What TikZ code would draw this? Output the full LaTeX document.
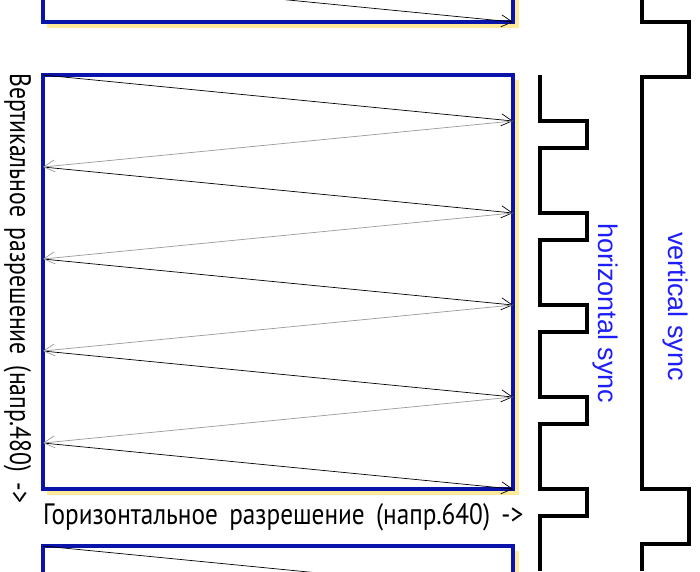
\documentclass[tikz,border=0pt]{standalone}
\usepackage{fontspec}
\usepackage{graphicx}
\setmainfont{PT Sans}
\newfontfamily\syncfont{Liberation Sans}
\usetikzlibrary{shapes,arrows.meta}
\definecolor{framecol}{RGB}{10,20,170}
\definecolor{glowcol}{RGB}{255,225,110}
\definecolor{synccol}{RGB}{30,30,250}
% a line of text squeezed to a given length
\newcommand\reslength[2]{\resizebox{#1}{21pt}{#2}}
\newcommand\wsp{\hspace{.45em}}

\begin{document}
\begin{tikzpicture}[x=1pt,y=-1pt,
      frame/.style={draw=framecol,line width=3.2pt,fill=white},
      glow/.style={fill=glowcol,opacity=.7},
      scan/.style={black,line width=.7pt,-{Straight Barb[length=11pt,width=12pt]}},
      retrace/.style={black!40,line width=.7pt,-{Straight Barb[length=11pt,width=12pt]}},
      wave/.style={line width=3.4pt,line join=miter},
      synclabel/.style={rotate=-90,anchor=base west,inner sep=0pt,text=synccol,
        font=\syncfont\fontsize{27}{30}\selectfont},
      reslabel/.style={anchor=base west,inner sep=0pt}]
    \useasboundingbox (0,0) rectangle (700,571);
    \clip (0,0) rectangle (700,571);

    % frames with their shadow
    \foreach \ya/\yb in {-400/22,75/489,546/960} {
      \fill[glow] (47,\ya+5) rectangle (519,\yb+6);
      \draw[frame] (43,\ya) rectangle (513,\yb);
    }

    % scan points
    \foreach \i in {0,...,4} {
      \coordinate (L\i) at (43,75+92*\i);
      \coordinate (R\i) at (513,121+92*\i);
    }
    \coordinate (Ltop) at (43,-24);
    \coordinate (Rtop) at (513,22);
    \coordinate (Lbot) at (43,546);
    \coordinate (Rbot) at (513,592);

    \draw[scan] (Ltop) -- (Rtop);
    \foreach \i in {0,...,4}
      \draw[scan] (L\i) -- (R\i);
    \foreach \i/\j in {0/1,1/2,2/3,3/4}
      \draw[retrace] (R\i) -- (L\j);
    \draw[scan] (Lbot) -- (Rbot);

    % horizontal sync
    \draw[wave] (540,75)
      \foreach \y in {121,213,305,397,489} {
        -- (540,\y) -- (587,\y) -- (587,\y+27) -- (540,\y+27)
      } -- (540,571);

    % vertical sync
    \draw[wave] (642,0) -- (642,22) -- (689,22) -- (689,77) -- (642,77)
      -- (642,489) -- (689,489) -- (689,544) -- (642,544) -- (642,571);

    \node[synclabel] (hsync) at (598,223) {horizontal sync};
    \node[synclabel] (vsync) at (668,232) {vertical sync};

    \node[reslabel] (hres) at (43,524)
      {\reslength{480pt}{Горизонтальное\wsp разрешение\wsp (напр.640)\wsp ->}};
    \node[reslabel,rotate=-90] (vres) at (10,73)
      {\reslength{430pt}{Вертикальное\wsp разрешение\wsp (напр.480)\wsp ->}};
\end{tikzpicture}
\end{document}
